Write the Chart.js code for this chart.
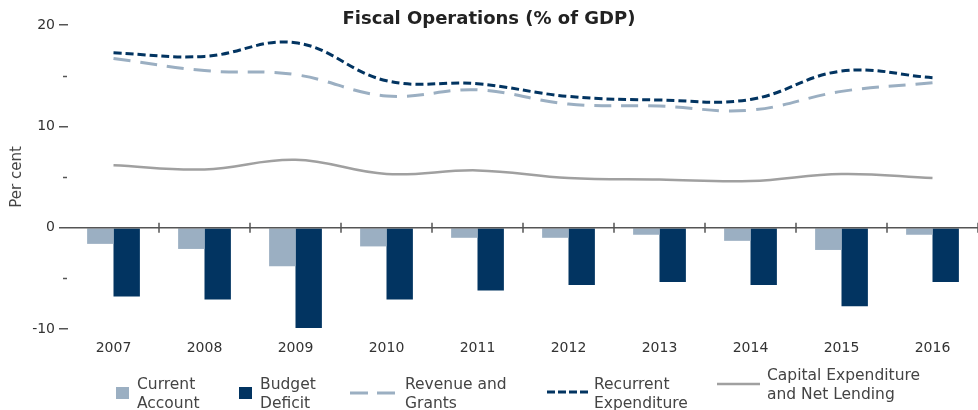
<!DOCTYPE html>
<html>
<head>
<meta charset="utf-8">
<script src="https://cdn.jsdelivr.net/npm/chart.js@4.4.1/dist/chart.umd.min.js"></script>
<style>
  html, body { margin: 0; padding: 0; background: #fff; }
  #wrap { position: relative; width: 978px; height: 410px; font-family: "DejaVu Sans", sans-serif; }
  #wrap canvas { position: absolute; left: 0; top: 0; }
  #title { position: absolute; top: 7px; left: 0; width: 978px; text-align: center;
           font-weight: bold; font-size: 18px; color: #222; }
  .lg-text { position: absolute; font-size: 15.5px; line-height: 19px; color: #444; white-space: nowrap; }
  .lg-sym { position: absolute; }
</style>
</head>
<body>
<div id="wrap">
  <canvas id="chart" width="978" height="410"></canvas>
  <div id="title">Fiscal Operations (% of GDP)</div>
  <div id="legend"></div>
</div>
<script>
const years = ['2007', '2008', '2009', '2010', '2011', '2012', '2013', '2014', '2015', '2016'];

const currentAccount = [-1.6, -2.1, -3.8, -1.85, -1.0, -1.0, -0.7, -1.3, -2.2, -0.7];
const budgetDeficit = [-6.8, -7.1, -9.9, -7.1, -6.2, -5.65, -5.35, -5.65, -7.75, -5.35];
const revenueGrants = [16.7, 15.5, 15.1, 13.0, 13.6, 12.2, 12.0, 11.6, 13.45, 14.3];
const recurrentExp = [17.25, 16.9, 18.25, 14.5, 14.2, 12.95, 12.6, 12.65, 15.45, 14.8];
const capitalExp = [6.15, 5.75, 6.7, 5.3, 5.65, 4.9, 4.75, 4.6, 5.3, 4.9];

const yTicks = [-10, -5, 0, 5, 10, 15, 20];

const seriesNames = [
    ['Current', 'Account'],
    ['Budget', 'Deficit'],
    ['Revenue and', 'Grants'],
    ['Recurrent', 'Expenditure'],
    ['Capital Expenditure', 'and Net Lending']
];

const lightBlue = '#9bafc2';
const darkBlue = '#023461';
const greyLine = '#a0a0a0';

// minor ticks on y axis + zero line with category dividers
const axisMarks = {
    id: 'axisMarks',
    afterDatasetsDraw(chart) {
        const { ctx, chartArea, scales } = chart;
        const x = scales.x, y = scales.y;
        ctx.save();
        ctx.strokeStyle = '#555';
        ctx.lineWidth = 1.5;
        // minor ticks
        yTicks.forEach(v => {
            if (v % 10 !== 0) {
                const py = Math.round(y.getPixelForValue(v)) + 0.5;
                ctx.beginPath();
                ctx.moveTo(chartArea.left - 5, py);
                ctx.lineTo(chartArea.left - 1, py);
                ctx.stroke();
            }
        });
        // zero line
        const y0 = y.getPixelForValue(0);
        ctx.beginPath();
        ctx.moveTo(chartArea.left, y0);
        ctx.lineTo(chartArea.right, y0);
        ctx.stroke();
        // dividers between categories
        const step = x.getPixelForValue(1) - x.getPixelForValue(0);
        for (let i = 1; i <= years.length; i++) {
            const px = x.getPixelForValue(i) - step / 2;
            ctx.beginPath();
            ctx.moveTo(px, y0 - 5);
            ctx.lineTo(px, y0 + 5);
            ctx.stroke();
        }
        ctx.restore();
    }
};

new Chart(document.getElementById('chart').getContext('2d'), {
    type: 'bar',
    data: {
        labels: years,
        datasets: [
            {
                label: seriesNames[0].join(' '),
                data: currentAccount,
                backgroundColor: lightBlue,
                categoryPercentage: 0.58,
                barPercentage: 1.0,
                order: 2
            },
            {
                label: seriesNames[1].join(' '),
                data: budgetDeficit,
                backgroundColor: darkBlue,
                categoryPercentage: 0.58,
                barPercentage: 1.0,
                order: 2
            },
            {
                type: 'line',
                label: seriesNames[2].join(' '),
                data: revenueGrants,
                borderColor: lightBlue,
                borderWidth: 3,
                borderDash: [17, 10],
                pointRadius: 0,
                tension: 0.4,
                fill: false,
                order: 1
            },
            {
                type: 'line',
                label: seriesNames[3].join(' '),
                data: recurrentExp,
                borderColor: darkBlue,
                borderWidth: 3,
                borderDash: [8, 4],
                pointRadius: 0,
                tension: 0.4,
                fill: false,
                order: 1
            },
            {
                type: 'line',
                label: seriesNames[4].join(' '),
                data: capitalExp,
                borderColor: greyLine,
                borderWidth: 2.5,
                pointRadius: 0,
                tension: 0.4,
                fill: false,
                order: 1
            }
        ]
    },
    options: {
        responsive: false,
        animation: false,
        layout: { padding: { top: 25, right: 0, bottom: 51, left: 0 } },
        plugins: {
            legend: { display: false },
            title: { display: false },
            tooltip: { enabled: false }
        },
        scales: {
            x: {
                grid: { display: false, drawTicks: false },
                border: { display: false },
                ticks: {
                    color: '#333',
                    font: { family: 'DejaVu Sans', size: 14 },
                    padding: 11,
                    maxRotation: 0
                },
                afterFit(scale) { scale.height = 30; }
            },
            y: {
                min: -10,
                max: 20,
                afterBuildTicks(scale) { scale.ticks = yTicks.map(v => ({ value: v })); },
                border: { display: false },
                grid: {
                    drawOnChartArea: false,
                    drawTicks: true,
                    tickLength: 9,
                    lineWidth: 1.5,
                    tickColor: ctx => (ctx.tick && ctx.tick.value % 10 === 0) ? '#555' : 'rgba(0,0,0,0)'
                },
                ticks: {
                    color: '#333',
                    font: { family: 'DejaVu Sans', size: 14 },
                    padding: 4,
                    callback: v => (v % 10 === 0 ? String(v) : '')
                },
                title: {
                    display: true,
                    text: 'Per cent',
                    color: '#444',
                    font: { family: 'DejaVu Sans', size: 15 },
                    padding: { top: 8, bottom: 0 }
                },
                afterFit(scale) { scale.width = 68; }
            }
        }
    },
    plugins: [axisMarks]
});

// legend (HTML, positions set per item)
const legendItems = [
    { sym: 'box', color: lightBlue, sx: 116, sy: 387, tx: 137, ty: 375 },
    { sym: 'box', color: darkBlue, sx: 239, sy: 387, tx: 260, ty: 375 },
    { sym: 'line', color: lightBlue, dash: '18 9', w: 3, sx: 350, sy: 393, len: 45, tx: 405, ty: 375 },
    { sym: 'line', color: darkBlue, dash: '8 3', w: 3, sx: 547, sy: 392, len: 42, tx: 594, ty: 375 },
    { sym: 'line', color: greyLine, dash: '', w: 2.5, sx: 717, sy: 384, len: 43, tx: 767, ty: 366 }
];
const legend = document.getElementById('legend');
legendItems.forEach((it, i) => {
    let sym;
    if (it.sym === 'box') {
        sym = document.createElement('div');
        sym.className = 'lg-sym';
        sym.style.cssText = `left:${it.sx}px;top:${it.sy}px;width:13px;height:12px;background:${it.color}`;
    } else {
        sym = document.createElementNS('http://www.w3.org/2000/svg', 'svg');
        sym.setAttribute('class', 'lg-sym');
        sym.setAttribute('width', it.len);
        sym.setAttribute('height', 6);
        sym.style.left = it.sx + 'px';
        sym.style.top = (it.sy - 3) + 'px';
        sym.innerHTML = `<line x1="0" y1="3" x2="${it.len}" y2="3" stroke="${it.color}" stroke-width="${it.w}" stroke-dasharray="${it.dash}"/>`;
    }
    legend.appendChild(sym);
    const t = document.createElement('div');
    t.className = 'lg-text';
    t.style.left = it.tx + 'px';
    t.style.top = it.ty + 'px';
    t.innerHTML = seriesNames[i].join('<br>');
    legend.appendChild(t);
});
</script>
</body>
</html>
